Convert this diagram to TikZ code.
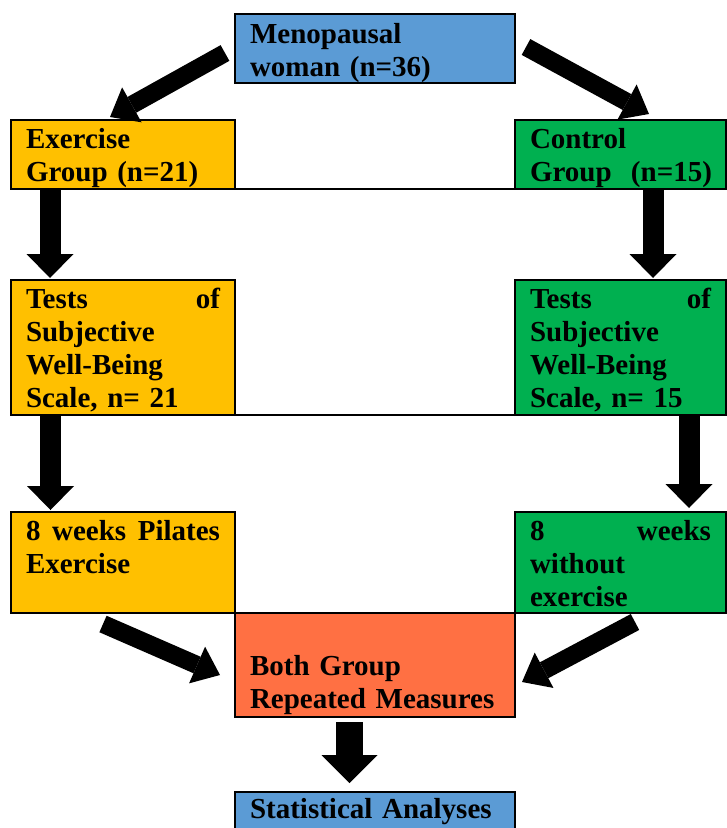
\documentclass[tikz,border=0pt]{standalone}
\usepackage{fontspec}
\setmainfont{Liberation Serif}
\usetikzlibrary{arrows.meta}

\definecolor{menoblue}{HTML}{5B9BD5}
\definecolor{exyellow}{HTML}{FFC000}
\definecolor{ctlgreen}{HTML}{00B050}
\definecolor{bothred}{HTML}{FF7043}

\begin{document}
\begin{tikzpicture}[x=1pt,y=-1pt,
  box/.style={draw, line width=2pt, anchor=north west, inner xsep=15pt, inner ysep=0pt,
    outer sep=0pt, align=left, text height=28pt,
    font=\fontsize{29}{33.3}\selectfont\bfseries},
  wide/.style={text width=250pt},
  leftcol/.style={text width=194pt, fill=exyellow},
  rightcol/.style={text width=181pt, fill=ctlgreen},
  down/.style={line width=21pt, -{Triangle[length=24pt,width=47pt,line width=0pt]}},
  slant/.style={line width=18pt, -{Triangle[length=25pt,width=40pt,line width=0pt]}}]

  \path[use as bounding box, clip] (0,0) rectangle (727,828);

  \node[box, wide, fill=menoblue, text height=29pt, text depth=40pt] (meno) at (235,14)
    {Menopausal\\woman (n=36)};
  \node[box, leftcol, text depth=41pt]  (exg)  at (11,120)  {Exercise\\Group (n=21)};
  \node[box, rightcol, text depth=41pt] (ctl)  at (515,120) {Control\\\mbox{Group\ \ (n=15)}};
  \node[box, leftcol, text depth=107pt] (tstE) at (11,280)
    {Tests \hfill of\\Subjective\\Well-Being\\Scale, n= 21};
  \node[box, rightcol, text depth=107pt] (tstC) at (515,280)
    {Tests \hfill of\\Subjective\\Well-Being\\Scale, n= 15};
  \node[box, leftcol, text depth=73pt]  (pil)  at (11,512)
    {8 \hfill weeks \hfill Pilates\\Exercise};
  \node[box, rightcol, text depth=73pt] (noex) at (515,512)
    {8 \hfill weeks\\without\\exercise};
  \node[box, wide, fill=bothred, text height=62pt, text depth=42pt] (both) at (235,613)
    {Both Group\\Repeated Measures};
  \node[box, wide, fill=menoblue, text height=26pt, text depth=30pt] (stat) at (235,792)
    {Statistical Analyses};

  % rows joined along the bottom
  \draw[line width=2pt] (exg.south east) -- (ctl.south west);
  \draw[line width=2pt] (tstE.south east) -- (tstC.south west);

  % arrows
  \draw[slant] ([shift={(-10,4.5)}]meno.west) -- ([shift={(-13,-3)}]exg.north);
  \draw[slant] ([shift={(11,-1.5)}]meno.east) -- ([shift={(28.5,-6)}]ctl.north);
  \draw[down] ([shift={(39,0)}]exg.south west)   -- ([shift={(39,-2)}]tstE.north west);
  \draw[down] ([shift={(138,0)}]ctl.south west)  -- ([shift={(138,-2)}]tstC.north west);
  \draw[down] ([shift={(39.5,0)}]tstE.south west) -- ([shift={(39.5,-2)}]pil.north west);
  \draw[down] ([shift={(174,0)}]tstC.south west) -- ([shift={(174,-4)}]noex.north west);
  \draw[slant] ([shift={(-20,11)}]pil.south) -- ([shift={(-15,10)}]both.west);
  \draw[slant] ([shift={(14.5,9)}]noex.south) -- ([shift={(7,17)}]both.east);
  \draw[line width=27pt, -{Triangle[length=28pt,width=56pt,line width=0pt]}]
    ([shift={(-25.5,5)}]both.south) -- ([shift={(-25.5,-9)}]stat.north);
\end{tikzpicture}
\end{document}
